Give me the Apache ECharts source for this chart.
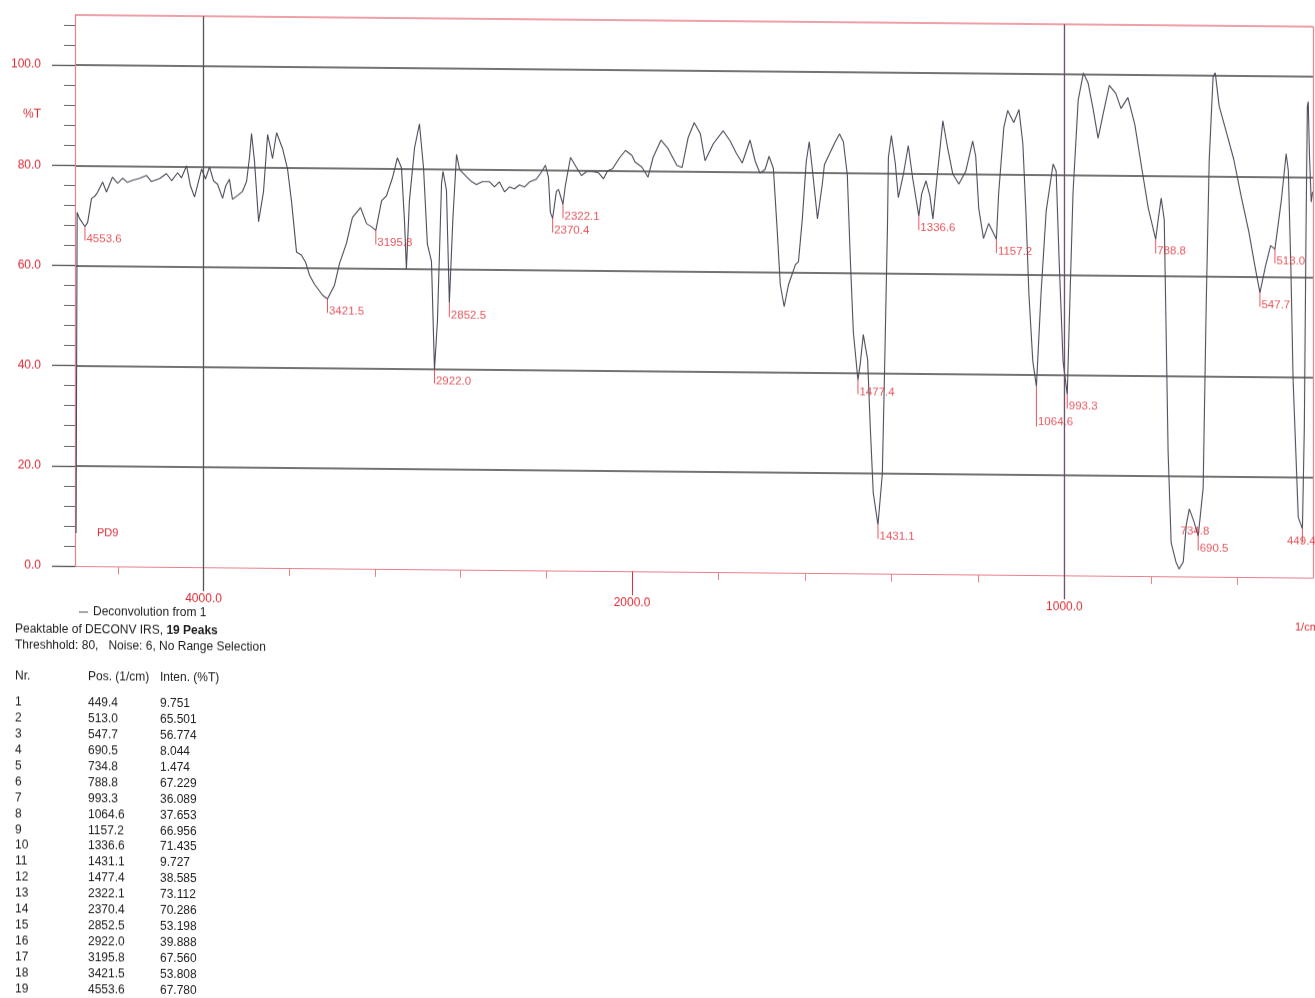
<!DOCTYPE html>
<html>
<head>
<meta charset="utf-8">
<title>PD9 - Deconvolution from 1</title>
<script src="https://cdn.jsdelivr.net/npm/echarts@6.0.0/dist/echarts.min.js"></script>
<style>
html, body { margin: 0; padding: 0; background: #fff; overflow: hidden; }
#chart { width: 1315px; height: 998px; transform: skewY(0.54deg); transform-origin: 75px 0; }
</style>
</head>
<body>
<div id="chart"></div>
<script>
// ---- spectrum trace (wavenumber in 1/cm, transmittance in %T), peak points are merged in below ----
const specWn = [
  4595, 4590, 4579, 4541, 4523, 4509, 4495, 4471, 4453, 4425, 4401, 4378, 4355, 4331, 4299, 4266,
  4243, 4205, 4173, 4149, 4121, 4103, 4079, 4061, 4042, 4023, 4009, 3991, 3972, 3953, 3935, 3911,
  3897, 3879, 3865, 3841, 3818, 3799, 3785, 3776, 3762, 3743, 3720, 3701, 3687, 3678, 3659, 3631,
  3608, 3589, 3566, 3543, 3524, 3505, 3482, 3444, 3389, 3365, 3333, 3305, 3267, 3239, 3216, 3169,
  3146, 3118, 3095, 3076, 3062, 3053, 3039, 3015, 2992, 2973, 2955, 2936, 2908, 2889, 2882, 2866,
  2836, 2819, 2805, 2773, 2749, 2726, 2698, 2665, 2642, 2619, 2595, 2572, 2549, 2525, 2502, 2479,
  2446, 2423, 2404, 2390, 2381, 2353, 2343, 2311, 2287, 2259, 2236, 2212, 2184, 2156, 2133, 2114,
  2091, 2058, 2030, 2000,
  1993, 1977, 1963, 1951, 1933, 1917, 1896, 1884, 1870, 1856, 1842, 1831, 1812, 1789, 1773, 1759,
  1745, 1727, 1715, 1704, 1692, 1683, 1673, 1664, 1657, 1648, 1638, 1622, 1615, 1606, 1597, 1590,
  1583, 1571, 1560, 1555, 1541, 1530, 1520, 1511, 1502, 1495, 1488, 1472, 1465, 1455, 1449, 1442,
  1421, 1416, 1409, 1407, 1400, 1391, 1384, 1372, 1361, 1351, 1330, 1320, 1311, 1304, 1293, 1281,
  1270, 1258, 1244, 1228, 1212, 1205, 1198, 1187, 1175, 1152, 1140, 1131, 1117, 1105, 1096, 1089,
  1082, 1073, 1054, 1042, 1026, 1019, 1012, 1003, 989, 980, 968, 956, 945, 933, 922, 910,
  896, 881, 869, 853, 837, 820, 806, 783, 776, 769, 767, 760, 753, 742, 725, 718,
  711, 700, 679, 672, 665, 656, 651, 642, 626, 608, 591, 573, 561, 535, 523, 498,
  487, 482, 476, 471, 459, 445, 441, 438, 436, 433, 429, 426
];
const specT = [
  6.6, 70.6, 69.4, 68.6, 73.4, 73.8, 74.6, 76.7, 74.7, 77.7, 76.5, 77.5, 76.7, 77.1, 77.5, 78.1,
  76.9, 77.5, 78.5, 77.1, 78.7, 77.7, 80.1, 76.1, 73.9, 77.1, 79.5, 77.5, 79.9, 77.1, 76.5, 73.7,
  76.1, 77.5, 73.5, 74.3, 75.1, 77.1, 82.1, 86.7, 81.1, 69.1, 75.1, 86.5, 83.7, 81.7, 86.9, 83.7,
  79.7, 73.1, 63.1, 62.5, 61.1, 58.5, 56.7, 54.5, 56.5, 60.9, 64.9, 70.1, 72.1, 68.9, 68.3, 73.5,
  74.5, 78.1, 82.1, 80.1, 69.5, 59.9, 73.5, 84.1, 88.9, 80.1, 64.9, 61.5, 49.7, 77.1, 79.5, 75.7,
  70.1, 82.9, 79.9, 78.5, 77.5, 76.9, 77.5, 77.5, 76.5, 77.5, 75.5, 76.5, 76.1, 76.9, 76.5, 77.5,
  78.1, 79.5, 80.9, 78.5, 71.5, 75.7, 76.1, 76.9, 82.5, 80.5, 78.9, 79.7, 79.7, 79.5, 78.3, 79.9,
  80.3, 82.5, 84.0, 83.0,
  81.7, 80.7, 78.7, 82.7, 86.1, 84.5, 81.1, 80.7, 86.7, 89.7, 87.5, 82.1, 85.5, 88.1, 86.1, 83.7,
  81.7, 86.3, 82.1, 79.7, 80.5, 83.1, 80.7, 68.1, 57.5, 53.1, 57.5, 61.5, 62.1, 70.7, 82.1, 86.1,
  80.7, 70.7, 77.5, 81.5, 84.1, 86.1, 87.7, 86.1, 79.5, 62.7, 48.1, 41.9, 47.7, 42.7, 29.5, 16.1,
  19.9, 39.9, 69.9, 83.1, 87.5, 81.9, 75.1, 79.9, 85.5, 79.1, 75.9, 78.5, 75.5, 70.9, 80.5, 90.5,
  85.1, 79.9, 77.9, 80.5, 86.5, 83.5, 73.1, 67.1, 70.1, 76.1, 89.3, 92.7, 90.3, 92.9, 86.1, 72.7,
  56.1, 42.7, 56.1, 72.7, 82.1, 80.7, 62.7, 42.7, 49.5, 76.3, 94.9, 100.3, 98.3, 92.9, 87.3, 92.3,
  97.9, 96.3, 93.3, 95.5, 90.1, 80.9, 73.5, 71.2, 75.5, 71.2, 61.1, 24.7, 6.7, 2.9, 2.9, 10.3,
  13.5, 10.9, 17.7, 53.9, 83.1, 99.8, 100.6, 94.0, 89.0, 83.3, 76.0, 68.8, 62.9, 62.0, 66.2, 75.4,
  84.6, 81.2, 61.4, 39.6, 12.0, 30.0, 70.0, 94.0, 95.0, 84.0, 75.0, 77.0
];

// ---- peak table ----
const peakPos = [449.4, 513.0, 547.7, 690.5, 734.8, 788.8, 993.3, 1064.6, 1157.2, 1336.6,
                 1431.1, 1477.4, 2322.1, 2370.4, 2852.5, 2922.0, 3195.8, 3421.5, 4553.6];
const peakInt = [9.751, 65.501, 56.774, 8.044, 1.474, 67.229, 36.089, 37.653, 66.956, 71.435,
                 9.727, 38.585, 73.112, 70.286, 53.198, 39.888, 67.560, 53.808, 67.780];

// ---- axis ticks ----
const xMinorHigh = [4400, 3600, 3200, 2800, 2400];
const xLabelHigh = [4000, 2000];
const xMinorLow = [1800, 1600, 1400, 1200, 800, 600];
const xLabelLow = [1000];
const yMajor = [0, 20, 40, 60, 80, 100];
const yMinor = [4, 8, 12, 16, 24, 28, 32, 36, 44, 48, 52, 56, 64, 68, 72, 76, 84, 88, 92, 96, 104, 108];
const yLabels = [0, 20, 40, 60, 80, 90, 100];

const RED = '#e02a33';
const FRAME = '#e8808a';
const GRIDC = '#444444';
const CURVE = '#4b4b5a';
const INK = '#1c1c1c';
const FONT = '"Liberation Sans", Arial, sans-serif';

// merge peak points into the trace, ordered from high to low wavenumber
const points = specWn.map((w, i) => [w, specT[i]])
  .concat(peakPos.map((p, i) => [p, peakInt[i]]))
  .sort((a, b) => b[0] - a[0]);
const highPart = points.filter(p => p[0] >= 2000);
const lowPart = points.filter(p => p[0] <= 2000);

// label placement for crowded peaks
const peakLabelStyle = {
  '1064.6': { drop: 40, pos: [2, 29] },
  '734.8': { drop: 0, pos: [2, -44] },
  '449.4': { drop: 14, pos: [-15, 7] }
};
function peakItem(i) {
  const t = peakLabelStyle[peakPos[i].toFixed(1)] || {};
  const drop = t.drop !== undefined ? t.drop : 14;
  return {
    value: [peakPos[i], peakInt[i]],
    symbolSize: [1, Math.max(drop, 0.1)],
    symbolOffset: [0, drop / 2],
    label: { position: t.pos || [2, 6] }
  };
}
const peakIdx = peakPos.map((_, i) => i);
const peaksHigh = peakIdx.filter(i => peakPos[i] >= 2000).map(peakItem);
const peaksLow = peakIdx.filter(i => peakPos[i] < 2000).map(peakItem);

const splitColors = ['rgba(0,0,0,0)', GRIDC, GRIDC, GRIDC, GRIDC, GRIDC, FRAME];
const fmt1 = v => Number(v).toFixed(1);

const baseX = (grid, min, max) => ({
  type: 'value', gridIndex: grid, min: min, max: max, inverse: true, position: 'bottom',
  splitLine: { show: false }, axisLine: { show: false }, axisTick: { show: false }, axisLabel: { show: false }
});

const option = {
  animation: false,
  backgroundColor: '#ffffff',
  textStyle: { fontFamily: FONT },
  grid: [
    { left: 75, top: 15, width: 557, height: 551 },
    { left: 632, top: 15, width: 681, height: 551 }
  ],
  legend: {
    data: ['Deconvolution from 1'],
    left: 74, top: 601,
    icon: 'rect', itemWidth: 9, itemHeight: 1, itemGap: 6,
    textStyle: { color: INK, fontSize: 12, fontFamily: FONT }
  },
  xAxis: [
    Object.assign(baseX(0, 2000, 4600), {
      axisLine: { show: true, lineStyle: { color: FRAME, width: 1.2 } },
      axisTick: { show: true, customValues: xMinorHigh, length: 8, lineStyle: { color: FRAME } }
    }),
    Object.assign(baseX(0, 2000, 4600), {
      axisTick: { show: true, customValues: [2000], length: 24, lineStyle: { color: RED } },
      axisLabel: { show: true, customValues: xLabelHigh, formatter: fmt1, margin: 26,
                   color: RED, fontSize: 12, fontFamily: FONT }
    }),
    Object.assign(baseX(0, 2000, 4600), {
      axisTick: { show: true, customValues: [4000], length: 24, lineStyle: { color: '#555', width: 1.3 } }
    }),
    Object.assign(baseX(1, 425, 2000), {
      axisLine: { show: true, lineStyle: { color: FRAME, width: 1.2 } },
      axisTick: { show: true, customValues: xMinorLow, length: 8, lineStyle: { color: FRAME } }
    }),
    Object.assign(baseX(1, 425, 2000), {
      axisTick: { show: true, customValues: xLabelLow, length: 24, lineStyle: { color: '#6a4c68', width: 1.3 } },
      axisLabel: { show: true, customValues: xLabelLow, formatter: fmt1, margin: 26,
                   color: RED, fontSize: 12, fontFamily: FONT }
    })
  ],
  yAxis: [
    {
      type: 'value', gridIndex: 0, min: 0, max: 110, interval: 20, position: 'left',
      axisLine: { show: true, lineStyle: { color: FRAME, width: 1.2 } },
      axisTick: { show: false }, axisLabel: { show: false },
      splitLine: { show: true, lineStyle: { color: splitColors, width: 1.5 } }
    },
    {
      type: 'value', gridIndex: 0, min: 0, max: 110, position: 'left',
      axisLine: { show: false }, splitLine: { show: false },
      axisTick: { show: true, customValues: yMajor, length: 23, lineStyle: { color: '#555', width: 1.3 } },
      axisLabel: { show: true, customValues: yLabels, margin: 34,
                   formatter: v => (v === 90 ? '%T' : fmt1(v)),
                   color: RED, fontSize: 12, fontFamily: FONT }
    },
    {
      type: 'value', gridIndex: 0, min: 0, max: 110, position: 'left',
      axisLine: { show: false }, splitLine: { show: false }, axisLabel: { show: false },
      axisTick: { show: true, customValues: yMinor, length: 11, lineStyle: { color: '#666' } }
    },
    {
      type: 'value', gridIndex: 1, min: 0, max: 110, interval: 20, position: 'right',
      axisLine: { show: true, lineStyle: { color: FRAME, width: 1.2 } },
      axisTick: { show: false }, axisLabel: { show: false },
      splitLine: { show: true, lineStyle: { color: splitColors, width: 1.5 } }
    }
  ],
  series: [
    {
      name: 'Deconvolution from 1', type: 'line', xAxisIndex: 0, yAxisIndex: 0,
      data: highPart, showSymbol: false, color: CURVE,
      lineStyle: { color: CURVE, width: 1.1 }, z: 3,
      markLine: {
        silent: true, symbol: ['none', 'none'], label: { show: false },
        lineStyle: { color: '#555', width: 1.3, type: 'solid' },
        data: [{ xAxis: 4000 }]
      }
    },
    {
      name: 'Deconvolution from 1', type: 'line', xAxisIndex: 3, yAxisIndex: 3,
      data: lowPart, showSymbol: false, color: CURVE,
      lineStyle: { color: CURVE, width: 1.1 }, z: 3,
      markLine: {
        silent: true, symbol: ['none', 'none'], label: { show: false },
        lineStyle: { color: '#6a4c68', width: 1.3, type: 'solid' },
        data: [{ xAxis: 1000 }]
      }
    },
    {
      name: 'peaks-high', type: 'scatter', xAxisIndex: 0, yAxisIndex: 0,
      data: peaksHigh, symbol: 'rect', itemStyle: { color: RED }, z: 4,
      label: { show: true, color: RED, fontSize: 11.5, fontFamily: FONT,
               formatter: p => fmt1(p.value[0]) }
    },
    {
      name: 'peaks-low', type: 'scatter', xAxisIndex: 3, yAxisIndex: 3,
      data: peaksLow, symbol: 'rect', itemStyle: { color: RED }, z: 4,
      label: { show: true, color: RED, fontSize: 11.5, fontFamily: FONT,
               formatter: p => fmt1(p.value[0]) }
    }
  ],
  graphic: []
};

// texts under the plot
const txt = (x, y, s, color, size, extra) => Object.assign({
  type: 'text', left: x, top: y, silent: true,
  style: { text: s, fill: color || INK, font: (size || 12) + 'px ' + FONT }
}, extra || {});

option.graphic.push(txt(97, 527, 'PD9', RED, 11));
option.graphic.push(txt(1295, 610, '1/cm', RED, 11));
option.graphic.push({
  type: 'text', left: 15, top: 624, silent: true,
  style: {
    text: '{a|Peaktable of DECONV IRS, }{b|' + peakPos.length + ' Peaks}',
    rich: {
      a: { fill: INK, font: '12px ' + FONT },
      b: { fill: INK, font: 'bold 12px ' + FONT }
    }
  }
});
option.graphic.push(txt(15, 640, 'Threshhold: 80,   Noise: 6, No Range Selection'));
option.graphic.push(txt(15, 671, 'Nr.'));
option.graphic.push(txt(88, 671, 'Pos. (1/cm)'));
option.graphic.push(txt(160, 671, 'Inten. (%T)'));
peakPos.forEach((p, i) => {
  const y = 697 + i * 15.9;
  option.graphic.push(txt(15, y, String(i + 1)));
  option.graphic.push(txt(88, y, p.toFixed(1)));
  option.graphic.push(txt(160, y, peakInt[i].toFixed(3)));
});

const chart = echarts.init(document.getElementById('chart'), null, { renderer: 'canvas' });
chart.setOption(option);
</script>
</body>
</html>
